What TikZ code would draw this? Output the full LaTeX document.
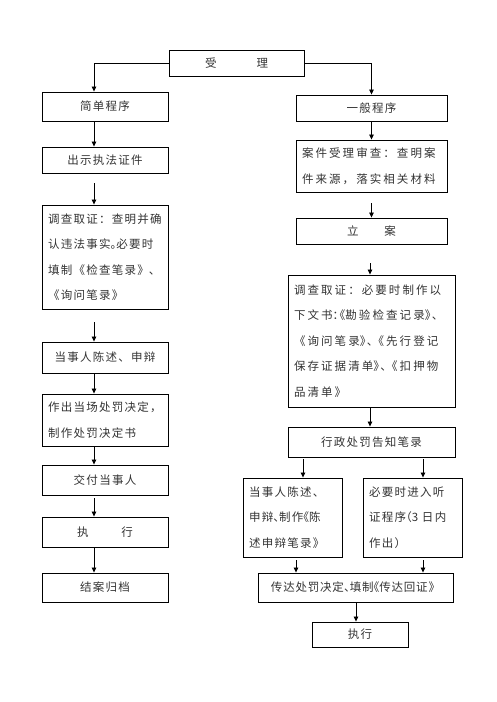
\documentclass[tikz,border=0pt]{standalone}
\usepackage{fontspec}
\setmainfont[LetterSpace=11]{Noto Sans CJK SC}
\newfontfamily\halffont[LetterSpace=11,RawFeature=+halt]{Noto Sans CJK SC}
\newcommand\hw[1]{{\halffont #1}}
\newcommand\wide{\addfontfeature{LetterSpace=18}}
\newcommand\tight{\addfontfeature{LetterSpace=7}}
\usetikzlibrary{arrows.meta}
\tikzset{
  box/.style={draw, line width=0.9pt, inner sep=0pt, text=black!80,
    font=\fontsize{11.5}{25.5}\selectfont},
  mbox/.style={box, inner xsep=6pt, align=left},
  arr/.style={-{Triangle[length=5pt,width=4.5pt]}, line width=0.8pt},
  ln/.style={line width=0.8pt}
}
\begin{document}
\begin{tikzpicture}[x=1pt,y=-1pt]
\useasboundingbox (0,0) rectangle (496,702);
\coordinate (xL) at (94,0);
\coordinate (xa) at (303,0);
\coordinate (xb) at (423,0);
\coordinate (xc) at (296,0);
\coordinate (xd) at (356,0);
\coordinate (xr) at (370,0);

\node[box, minimum width=135, minimum height=26] (sl) at (236.5,63) {受\hspace{40pt}理};

% left column
\node[box, minimum width=126, minimum height=29] (jd) at (105,106.5) {简单程序};
\node[box, minimum width=126, minimum height=26] (cs) at (105,160) {出示执法证件};
\node[mbox, text width=114, minimum height=104] (dcl) at (105,257)
  {调查取证：查明并确\\认违法事实\hw{。}必要时\\填制《检查笔录》\hw{、}\\《询问笔录》};
\node[box, minimum width=126, minimum height=31] (dsl) at (105,357.5) {当事人陈述、申辩};
\node[mbox, text width=114, minimum height=52] (zc) at (105,420)
  {作出当场处罚决定，\\制作处罚决定书};
\node[box, minimum width=126, minimum height=30] (jf) at (105,480) {交付当事人};
\node[box, minimum width=126, minimum height=30] (zxl) at (105,532) {执\hspace{33pt}行};
\node[box, minimum width=126, minimum height=29] (ja) at (105,587.5) {结案归档};

% right column
\node[box, minimum width=151, minimum height=26] (yb) at (371.5,108) {一般程序};
\node[mbox, text width=139, minimum height=52] (aj) at (371.5,166)
  {\wide 案件受理审查：查明案\\\wide 件来源，落实相关材料};
\node[box, minimum width=151, minimum height=26] (la) at (371.5,231) {立\hspace{26pt}案};
\node[mbox, text width=155, minimum height=132] (dcr) at (371.5,341)
  {\wide 调查取证：必要时制作以\\\wide 下文书\hw{：《}勘验检查记录\hw{》、}\\\wide 《询问笔录\hw{》、}《先行登记\\\wide 保存证据清单\hw{》、}《扣押物\\\wide 品清单》};
\node[box, minimum width=167, minimum height=30] (xz) at (371.5,442) {行政处罚告知笔录};
\node[mbox, text width=87, minimum height=79] (ls) at (292.5,517.5)
  {当事人陈述、\\申辩\hw{、}制作\hw{《}陈\\述申辩笔录》};
\node[mbox, text width=87, minimum height=79] (tz) at (412.5,517.5)
  {必要时进入听\\证程序\hw{（}3 日内\\作出）};
\node[box, minimum width=195, minimum height=29] (cd) at (355.5,587.5)
  {\tight 传达处罚决定\hw{、}填制\hw{《}传达回证》};
\node[box, minimum width=96, minimum height=25] (zxr) at (360,634.5) {执行};

% connectors from top
\draw[arr] (sl.west) -| (jd.north -| xL);
\draw[arr] (sl.east) -| (yb.north);

% left column arrows
\coordinate (g1) at ([yshift=-10pt]cs.south);
\coordinate (g2) at ([yshift=-13pt]dcl.south);
\coordinate (g3) at ([yshift=-3pt]jf.south);
\draw[arr] (jd.south -| xL) -- (cs.north -| xL);
\draw[arr] (g1 -| xL) -- (dcl.north -| xL);
\draw[arr] (g2 -| xL) -- (dsl.north -| xL);
\draw[arr] (dsl.south -| xL) -- (zc.north -| xL);
\draw[arr] (zc.south -| xL) -- (jf.north -| xL);
\draw[arr] (g3 -| xL) -- (zxl.north -| xL);
\draw[arr] (zxl.south -| xL) -- (ja.north -| xL);

% right column arrows
\coordinate (h1) at ([yshift=-11pt]aj.south);
\coordinate (h2) at ([yshift=-19pt]la.south);
\coordinate (h3) at ([yshift=-2pt]xz.south);
\coordinate (h4) at ([yshift=-3pt]ls.south);
\coordinate (h5) at ([yshift=-3pt]tz.south);
\draw[arr] (yb.south) -- (aj.north);
\draw[arr] (h1) -- (la.north);
\draw[arr] (h2 -| xr) -- (dcr.north -| xr);
\draw[arr] (dcr.south -| xr) -- (xz.north -| xr);
\draw[arr] (h3 -| xa) -- (ls.north -| xa);
\draw[arr] (h3 -| xb) -- (tz.north -| xb);
\draw[arr] (h4 -| xc) -- (cd.north -| xc);
\draw[arr] (h5 -| xb) -- (cd.north -| xb);
\draw[arr] (cd.south -| xd) -- (zxr.north -| xd);
\end{tikzpicture}
\end{document}
